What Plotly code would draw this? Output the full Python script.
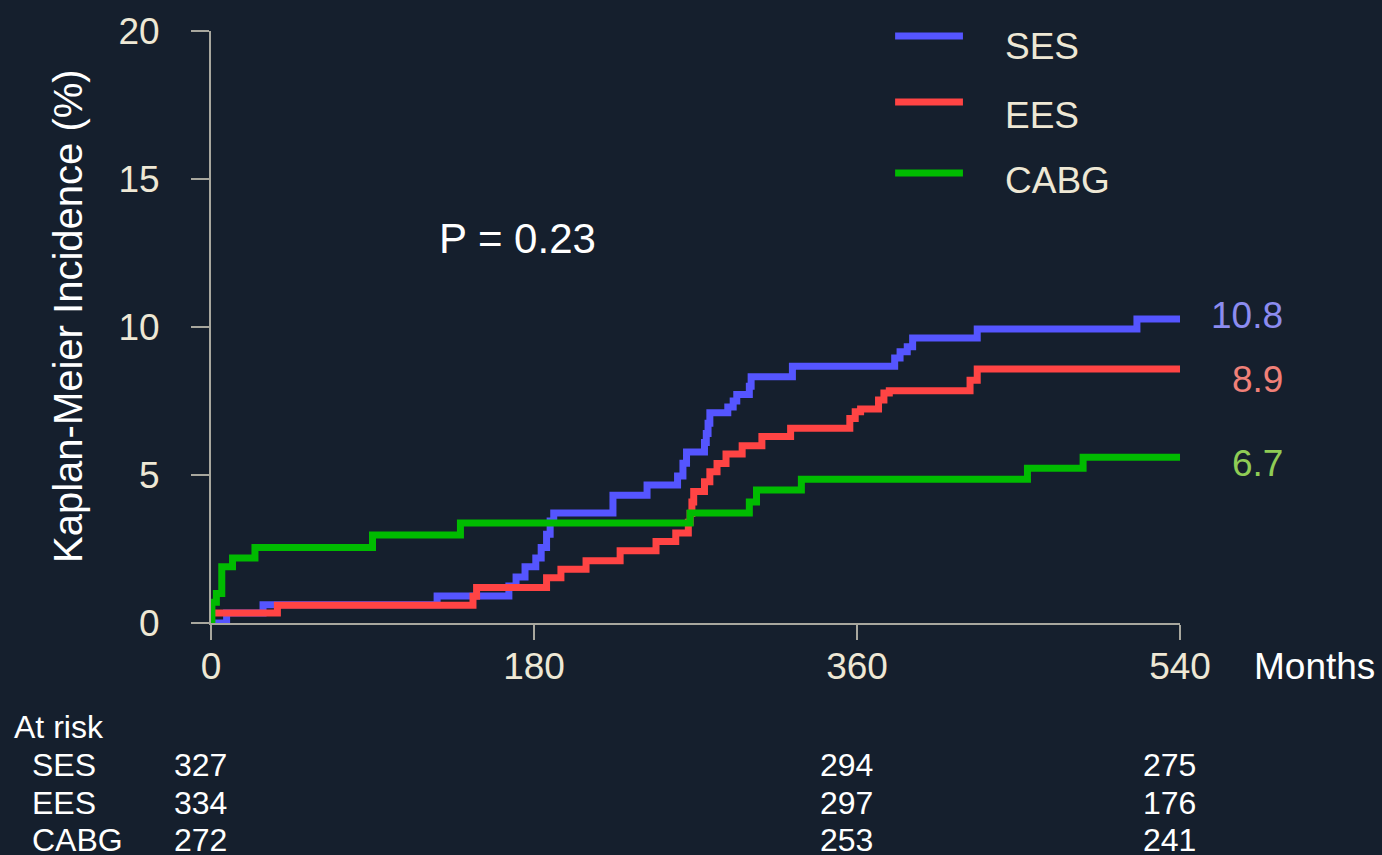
import plotly.graph_objects as go

# Kaplan-Meier cumulative incidence (%)
ses_days = [0, 8.7, 29, 126, 166, 170, 175, 181, 184, 187, 189, 191, 224, 243, 260, 263, 265,
            275, 276, 277, 278, 288, 291, 293, 300, 301, 324, 381, 384, 388, 391, 427, 516, 540]
ses_pct = [0, 0.34, 0.62, 0.91, 1.25, 1.55, 1.9, 2.2, 2.55, 3.0, 3.45, 3.72, 4.32, 4.66, 4.97, 5.4, 5.78,
           6.1, 6.4, 6.75, 7.1, 7.3, 7.5, 7.72, 8.0, 8.32, 8.67, 8.95, 9.16, 9.33, 9.63, 9.93, 10.27, 10.27]

ees_days = [0, 37, 146, 148, 187, 195, 209, 228, 248, 259, 266, 267, 268, 269, 275, 278, 282, 287,
            296, 307, 323, 356, 359, 362, 372, 375, 378, 423, 427, 540]
ees_pct = [0.34, 0.6, 0.9, 1.2, 1.53, 1.82, 2.1, 2.44, 2.75, 3.04, 3.4, 3.7, 4.09, 4.44, 4.77, 5.11, 5.39, 5.71,
           5.99, 6.3, 6.58, 6.91, 7.14, 7.23, 7.53, 7.77, 7.85, 8.2, 8.58, 8.58]

cabg_days = [0, 0.5, 3, 6, 12, 24.5, 90, 139, 267, 300, 304, 329, 455, 486, 540]
cabg_pct = [0, 0.7, 1.0, 1.9, 2.2, 2.55, 2.97, 3.38, 3.72, 4.09, 4.49, 4.86, 5.23, 5.6, 5.6]

groups = ["SES", "EES", "CABG"]
colors = ["#5555ff", "#ff4444", "#00bb00"]
end_labels = ["10.8", "8.9", "6.7"]
end_colors = ["#8c8cf0", "#f08078", "#8fcc55"]

risk_days = [0, 360, 540]
risk_ses = [327, 294, 275]
risk_ees = [334, 297, 176]
risk_cabg = [272, 253, 241]

bg = "#151f2d"
axis_col = "#a8a79e"
cream = "#eee8d5"
font = "Liberation Sans, Arial, sans-serif"

fig = go.Figure()
for name, xs, ys, c in zip(groups, [ses_days, ees_days, cabg_days],
                           [ses_pct, ees_pct, cabg_pct], colors):
    fig.add_trace(go.Scatter(x=xs, y=ys, mode="lines", name=name,
                             line=dict(color=c, width=7, shape="hv"), showlegend=False))

# hand-made legend
leg_y = [0.9916, 0.880, 0.760]
txt_y = [0.973, 0.858, 0.748]
for name, c, ly, ty in zip(groups, colors, leg_y, txt_y):
    fig.add_shape(type="line", xref="paper", yref="paper", x0=0.706, x1=0.776, y0=ly, y1=ly,
                  line=dict(color=c, width=7))
    fig.add_annotation(xref="paper", yref="paper", x=0.817, y=ty, text=name, showarrow=False,
                       xanchor="left", yanchor="middle", font=dict(size=37, color=cream, family=font))

# final values at right
for lab, c, yy in zip(end_labels, end_colors, [0.520, 0.412, 0.270]):
    fig.add_annotation(xref="paper", yref="paper", x=1.108, y=yy, text=lab, showarrow=False,
                       xanchor="right", yanchor="middle", font=dict(size=37, color=c, family=font))

fig.add_annotation(xref="x", yref="y", x=126, y=13, text="P = 0.23", showarrow=False,
                   xanchor="left", yanchor="middle", font=dict(size=42, color="white", family=font))

fig.add_annotation(xref="paper", yref="paper", x=1.139, y=-0.0743, text="Months", showarrow=False,
                   xanchor="center", yanchor="middle", font=dict(size=37, color="white", family=font))

fig.add_annotation(xref="paper", yref="paper", x=-0.1476, y=0.5186, text="Kaplan-Meier Incidence (%)",
                   textangle=-90, showarrow=False, xanchor="center", yanchor="middle",
                   font=dict(size=40, color="white", family=font))

# at-risk table
fig.add_annotation(xref="paper", yref="paper", x=-0.2054, y=-0.1757, text="At risk", showarrow=False,
                   xanchor="left", yanchor="middle", font=dict(size=32, color="white", family=font))
row_y = [-0.2399, -0.304, -0.3666]
for name, ry, vals in zip(groups, row_y, [risk_ses, risk_ees, risk_cabg]):
    fig.add_annotation(xref="paper", yref="paper", x=-0.1868, y=ry, text=name, showarrow=False,
                       xanchor="left", yanchor="middle", font=dict(size=32, color="white", family=font))
    for d, v in zip(risk_days, vals):
        fig.add_annotation(xref="x", yref="paper", x=d, y=ry, text=str(v), showarrow=False,
                           xanchor="center", yanchor="middle", xshift=-11,
                           font=dict(size=32, color="white", family=font))

fig.update_xaxes(range=[0, 540], tickvals=[0, 180, 360, 540], showgrid=False, zeroline=False,
                 showline=True, linecolor=axis_col, linewidth=2, ticks="outside", ticklen=15,
                 tickwidth=2, tickcolor=axis_col, ticklabelstandoff=-5,
                 tickfont=dict(size=37, color=cream, family=font))
fig.update_yaxes(range=[0, 20], tickvals=[0, 5, 10, 15, 20], showgrid=False, zeroline=False,
                 showline=True, linecolor=axis_col, linewidth=2, ticks="outside", ticklen=18,
                 tickwidth=2, tickcolor=axis_col, ticklabelstandoff=24,
                 tickfont=dict(size=37, color=cream, family=font))

fig.update_layout(width=1382, height=855, paper_bgcolor=bg, plot_bgcolor=bg,
                  margin=dict(l=211, r=202, t=31, b=232), font=dict(family=font))

fig.write_html("out.html", config={"displayModeBar": False},
               post_script="document.body.style.margin='0';")
